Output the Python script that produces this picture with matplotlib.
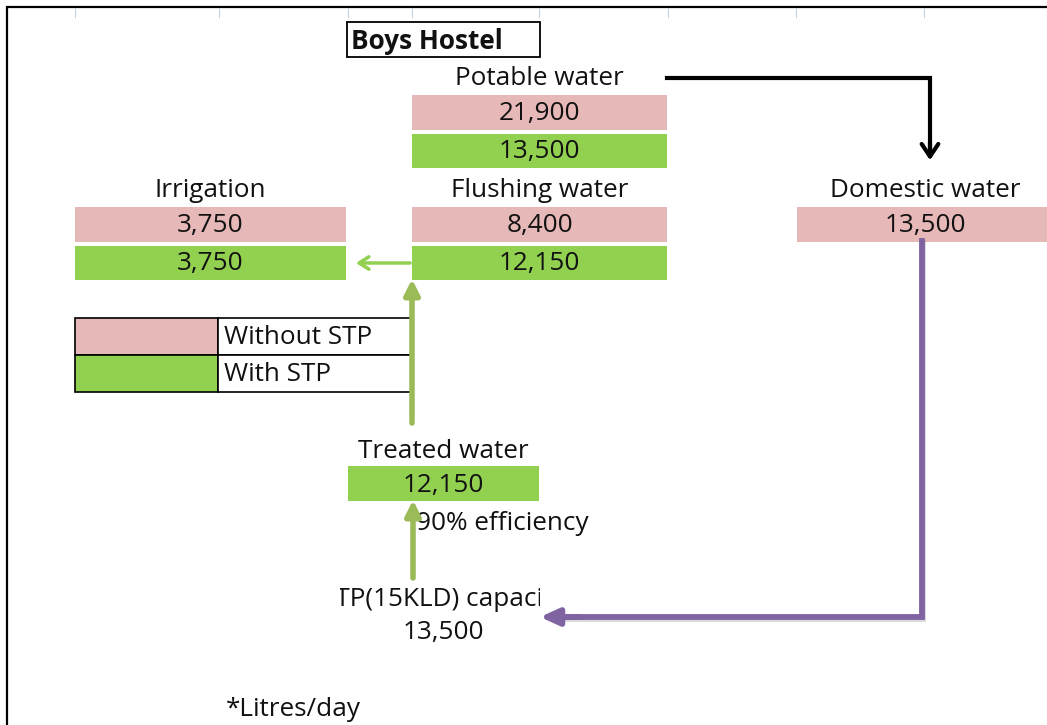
import matplotlib
matplotlib.use("Agg")
import matplotlib.pyplot as plt
from matplotlib.patches import Rectangle
import matplotlib.patheffects as pe

plt.rcParams['font.family'] = ['Open Sans', 'DejaVu Sans']

# ---- data ----
title = "Boys Hostel"
nodes = ["Potable water", "Flushing water", "Irrigation", "Domestic water"]
without_stp = [21900, 8400, 3750, 13500]
with_stp = [13500, 12150, 3750, None]
legend_labels = ["Without STP", "With STP"]
treated_label = "Treated water"
treated_value = 12150
efficiency_label = "90% efficiency"
stp_label = "STP(15KLD) capacity"
stp_capacity = 13500
unit_note = "*Litres/day"

PINK = "#E6B8B7"
GREEN = "#92D050"
LGREEN = "#9BBB59"
PURPLE = "#8064A2"
FS = 18.8
TXT = "#111111"

W, H = 1047, 725
fig = plt.figure(figsize=(W / 100, H / 100), dpi=100)
ax = fig.add_axes([0, 0, 1, 1])
ax.set_xlim(0, W)
ax.set_ylim(H, 0)
ax.axis('off')

# outer frame
ax.plot([7, 7, W + 5], [H + 5, 7, 7], color='black', lw=1.6, solid_joinstyle='miter')
for gx in [75, 219, 348, 412, 539, 668, 796, 924]:
    ax.plot([gx, gx], [8, 17], color='#C8D0DC', lw=0.8)

# title box
ax.add_patch(Rectangle((347, 22), 193, 35, fill=False, ec='black', lw=1.3))
ax.text(351, 41, title, fontsize=FS, fontweight='bold', va='center', ha='left', color=TXT)

def fmt(v):
    return f"{v:,}"

# node blocks: (x0, width, label_y, row1_y)
layout = {
    "Potable water": (412, 255, 78, 95),
    "Flushing water": (412, 255, 190, 207),
    "Irrigation": (75, 271, 190, 207),
    "Domestic water": (797, 260, 190, 207),
}
for name, wo, wi in zip(nodes, without_stp, with_stp):
    x0, w, ly, ry = layout[name]
    cx = x0 + w / 2 if name != "Domestic water" else 925
    ax.text(cx, ly, name, fontsize=FS, ha='center', va='center', color=TXT)
    ax.add_patch(Rectangle((x0, ry), w, 35, fc=PINK, ec='none'))
    ax.text(cx, ry + 18.5, fmt(wo), fontsize=FS, ha='center', va='center', color=TXT)
    if wi is not None:
        ax.add_patch(Rectangle((x0, ry + 38.5), w, 34, fc=GREEN, ec='none'))
        ax.text(cx, ry + 56.5, fmt(wi), fontsize=FS, ha='center', va='center', color=TXT)

# legend table
rows_y = [318, 355]
for ly, lab, col in zip(rows_y, legend_labels, [PINK, GREEN]):
    ax.add_patch(Rectangle((75, ly), 143, 37, fc=col, ec='black', lw=1.2))
    ax.add_patch(Rectangle((218, ly), 194, 37, fc='white', ec='black', lw=1.2))
    ax.text(224, ly + 19.5, lab, fontsize=FS, ha='left', va='center', color=TXT)

# treated water
ax.text(443, 451, treated_label, fontsize=FS, ha='center', va='center', color=TXT)
ax.add_patch(Rectangle((348, 466), 191, 35, fc=GREEN, ec='none'))
ax.text(443, 485, fmt(treated_value), fontsize=FS, ha='center', va='center', color=TXT)
ax.text(416, 523, efficiency_label, fontsize=FS, ha='left', va='center', color=TXT)

# STP (text clipped to its cell as in the spreadsheet)
clip = Rectangle((340, 580), 200, 40, transform=ax.transData)
t = ax.text(443, 600, stp_label, fontsize=FS, ha='center', va='center', color=TXT)
t.set_clip_on(True)
t.set_clip_path(clip)
ax.text(443, 633, fmt(stp_capacity), fontsize=FS, ha='center', va='center', color=TXT)

ax.text(226, 710, unit_note, fontsize=FS, ha='left', va='center', color=TXT)

# ---- arrows ----
# black: potable -> domestic
ax.plot([667, 930, 930], [78, 78, 150], color='black', lw=3.0, solid_joinstyle='miter')
ax.annotate("", xy=(930, 163), xytext=(930, 140),
            arrowprops=dict(arrowstyle='->,head_length=0.9,head_width=0.6', color='black', lw=3.0))

# purple: domestic -> STP
shadow = [pe.SimpleLineShadow(offset=(1.0, -1.5), alpha=0.15), pe.Normal()]
ax.plot([922, 922, 560], [241, 617, 617], color=PURPLE, lw=4.2, solid_joinstyle='miter',
        path_effects=shadow)
ax.annotate("", xy=(540, 617), xytext=(580, 617),
            arrowprops=dict(arrowstyle='-|>,head_length=1.1,head_width=0.5', color=PURPLE, lw=4.2,
                            shrinkA=0, shrinkB=0))

# green: treated -> flushing
ax.annotate("", xy=(412, 279), xytext=(412, 423),
            arrowprops=dict(arrowstyle='-|>,head_length=0.9,head_width=0.45', color=LGREEN, lw=4.0,
                            shrinkA=0, shrinkB=0))
# green: STP -> treated
ax.annotate("", xy=(413, 500), xytext=(413, 578),
            arrowprops=dict(arrowstyle='-|>,head_length=0.9,head_width=0.45', color=LGREEN, lw=4.0,
                            shrinkA=0, shrinkB=0))
# green: flushing -> irrigation
ax.annotate("", xy=(356, 263), xytext=(410, 263),
            arrowprops=dict(arrowstyle='->,head_length=0.7,head_width=0.45', color=GREEN, lw=2.5,
                            shrinkA=0, shrinkB=0))

fig.savefig("out.png", dpi=100)
